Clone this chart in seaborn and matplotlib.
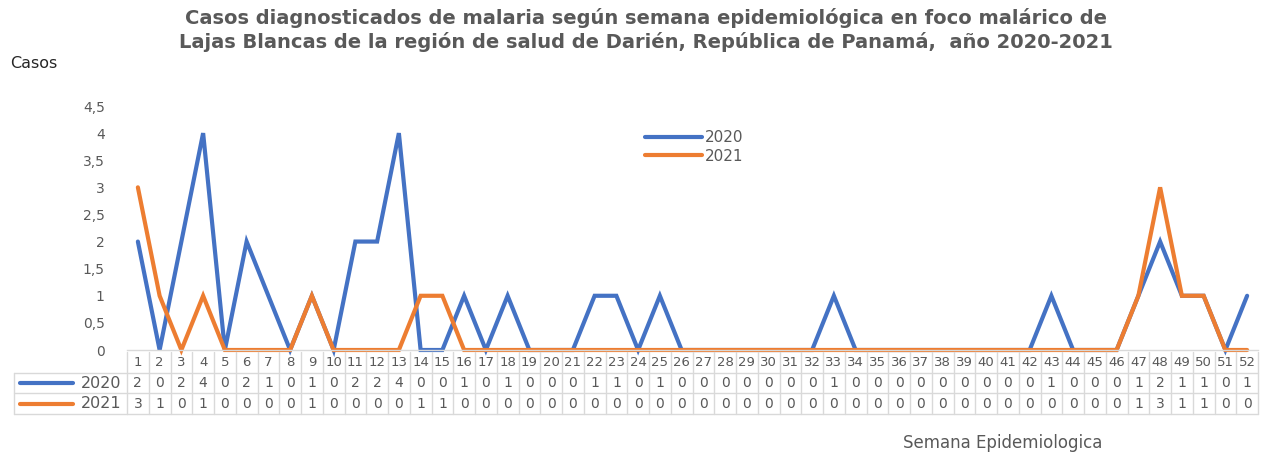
import numpy as np
import pandas as pd
import matplotlib
matplotlib.use("Agg")
import matplotlib.pyplot as plt
import matplotlib.transforms as mtransforms
from matplotlib.lines import Line2D
import seaborn as sns

# ---- data ----
weeks = list(range(1, 53))
casos_2020 = [2, 0, 2, 4, 0, 2, 1, 0, 1, 0, 2, 2, 4, 0, 0, 1, 0, 1, 0, 0,
              0, 1, 1, 0, 1, 0, 0, 0, 0, 0, 0, 0, 1, 0, 0, 0, 0, 0, 0, 0,
              0, 0, 1, 0, 0, 0, 1, 2, 1, 1, 0, 1]
casos_2021 = [3, 1, 0, 1, 0, 0, 0, 0, 1, 0, 0, 0, 0, 1, 1, 0, 0, 0, 0, 0,
              0, 0, 0, 0, 0, 0, 0, 0, 0, 0, 0, 0, 0, 0, 0, 0, 0, 0, 0, 0,
              0, 0, 0, 0, 0, 0, 1, 3, 1, 1, 0, 0]
series_names = ["2020", "2021"]
y_ticks = [0, 0.5, 1, 1.5, 2, 2.5, 3, 3.5, 4, 4.5]
y_tick_labels = ["0", "0,5", "1", "1,5", "2", "2,5", "3", "3,5", "4", "4,5"]
title = ("Casos diagnosticados de malaria según semana epidemiológica en foco malárico de\n"
         "Lajas Blancas de la región de salud de Darién, República de Panamá,  año 2020-2021")

df = pd.DataFrame({
    "Semana": weeks * 2,
    "Casos": casos_2020 + casos_2021,
    "Año": [series_names[0]] * len(weeks) + [series_names[1]] * len(weeks),
})

sns.set_theme(style="white")
plt.rcParams["font.family"] = ["DejaVu Sans"]

W, H = 1264, 454
fig = plt.figure(figsize=(W / 100, H / 100), dpi=100)
ax_left, ax_right, ax_bottom_px, ax_top_px = 127, 1258, 350, 106
ax = fig.add_axes([ax_left / W, 1 - ax_bottom_px / H,
                   (ax_right - ax_left) / W, (ax_bottom_px - ax_top_px) / H])

palette = {"2020": "#4472C4", "2021": "#ED7D31"}
sns.lineplot(data=df, x="Semana", y="Casos", hue="Año", palette=palette,
             linewidth=3.0, ax=ax, legend=False, sort=False,
             solid_capstyle="round", solid_joinstyle="miter", clip_on=False)

ax.set_xlim(0.5, len(weeks) + 0.5)
ax.set_ylim(0, 4.5)
ax.set_yticks(y_ticks)
ax.set_yticklabels(y_tick_labels, color="#595959", fontsize=10)
ax.tick_params(axis="y", length=0, pad=16)
ax.set_xticks([])
ax.set_xlabel("")
ax.set_ylabel("")
for s in ["top", "right", "left"]:
    ax.spines[s].set_visible(False)
ax.spines["bottom"].set_color("#D9D9D9")
ax.spines["bottom"].set_linewidth(1.0)
ax.grid(False)

# legend inside plot
handles = [Line2D([0], [0], color=palette[n], lw=3, solid_capstyle="round") for n in series_names]
leg = ax.legend(handles, series_names, loc="upper left",
                bbox_to_anchor=((645 - ax_left) / (ax_right - ax_left), 1 - (130 - ax_top_px) / (ax_bottom_px - ax_top_px)),
                frameon=False, handlelength=3.7, handletextpad=0.2, labelspacing=0.25,
                borderaxespad=0, borderpad=0, fontsize=11)
for t in leg.get_texts():
    t.set_color("#595959")

# ---- data table below the axes ----
ax_h = ax_bottom_px - ax_top_px
def ypx(p):
    return (ax_bottom_px - p) / ax_h

trans = mtransforms.blended_transform_factory(ax.transData, ax.transAxes)
grid_col = "#D9D9D9"
row_edges = [352, 373, 393, 414]
txt_col = "#595959"
# vertical lines
for i in range(len(weeks) + 1):
    xb = i + 0.5
    ax.plot([xb, xb], [ypx(row_edges[0]), ypx(row_edges[-1])], transform=trans,
            color=grid_col, lw=1.0, clip_on=False)
# horizontal lines
for r in row_edges[1:]:
    ax.plot([0.5, len(weeks) + 0.5], [ypx(r), ypx(r)], transform=trans,
            color=grid_col, lw=1.0, clip_on=False)
# row-label cells (figure coords)
lab_left = 14
for r in row_edges[1:]:
    fig.add_artist(Line2D([lab_left / W, ax_left / W], [1 - r / H, 1 - r / H],
                          color=grid_col, lw=1.0))
fig.add_artist(Line2D([lab_left / W, lab_left / W], [1 - row_edges[1] / H, 1 - row_edges[-1] / H],
                      color=grid_col, lw=1.0))

rows_vals = [casos_2020, casos_2021]
for i, w in enumerate(weeks):
    ax.text(w, ypx((row_edges[0] + row_edges[1]) / 2), str(w), transform=trans,
            ha="center", va="center", fontsize=9.5, color=txt_col, clip_on=False)
    for k, vals in enumerate(rows_vals):
        ax.text(w, ypx((row_edges[k + 1] + row_edges[k + 2]) / 2), str(vals[i]), transform=trans,
                ha="center", va="center", fontsize=10, color=txt_col, clip_on=False)

for k, name in enumerate(series_names):
    yc = 1 - ((row_edges[k + 1] + row_edges[k + 2]) / 2) / H
    fig.add_artist(Line2D([20 / W, 73 / W], [yc, yc], color=palette[name], lw=3,
                          solid_capstyle="round"))
    fig.text(121 / W, yc, name, ha="right", va="center", fontsize=11.5, color=txt_col)

# ---- titles ----
fig.text(646 / W, 1 - 30 / H, title, ha="center", va="center", fontsize=14,
         fontweight="bold", color="#595959", linespacing=1.2)
fig.text(10 / W, 1 - 64 / H, "Casos", ha="left", va="center", fontsize=11.5, color="#262626")
fig.text(1003 / W, 1 - 452 / H, "Semana Epidemiologica", ha="center", va="bottom",
         fontsize=12, color="#595959")

fig.savefig("out.png", dpi=100, facecolor="white")
